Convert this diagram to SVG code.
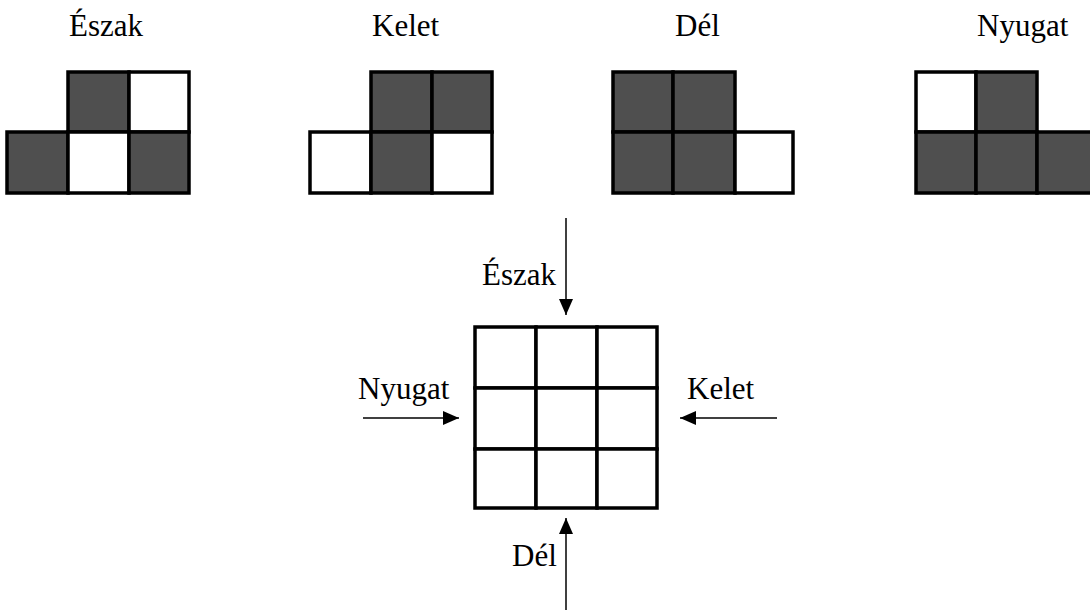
<svg xmlns="http://www.w3.org/2000/svg" width="1090" height="610" viewBox="0 0 1090 610">
<style>
text{font-family:"Liberation Serif","Times New Roman",serif;font-size:31px;fill:#000}
.d{fill:#4f4f4f;stroke:#000;stroke-width:3.5}
.w{fill:#fff;stroke:#000;stroke-width:3.5}
.c{stroke:#000;stroke-width:1.5;fill:none}
</style>
<defs>
<marker id="ah" viewBox="0 0 10 10" refX="10" refY="5" markerWidth="10" markerHeight="10" markerUnits="userSpaceOnUse" orient="auto">
<path d="M0,0 L10,5 L0,10 z" fill="#000"/>
</marker>
<marker id="ah2" viewBox="0 0 16 14" refX="16" refY="7" markerWidth="16" markerHeight="14" markerUnits="userSpaceOnUse" orient="auto">
<path d="M0,0 L16,7 L0,14 z" fill="#000"/>
</marker>
</defs>
<rect width="1090" height="610" fill="#fff"/>
<g id="eszak">
<text x="69" y="36">Észak</text>
<rect class="d" x="68" y="72" width="61" height="60"/>
<rect class="w" x="129" y="72" width="60" height="60"/>
<rect class="d" x="7" y="132" width="61" height="61"/>
<rect class="w" x="68" y="132" width="61" height="61"/>
<rect class="d" x="129" y="132" width="60" height="61"/>
</g>
<g id="kelet">
<text x="372" y="36">Kelet</text>
<rect class="d" x="371" y="72" width="61" height="60"/>
<rect class="d" x="432" y="72" width="60" height="60"/>
<rect class="w" x="310" y="132" width="61" height="61"/>
<rect class="d" x="371" y="132" width="61" height="61"/>
<rect class="w" x="432" y="132" width="60" height="61"/>
</g>
<g id="del">
<text x="675" y="36">Dél</text>
<rect class="d" x="613" y="72" width="60" height="60"/>
<rect class="d" x="673" y="72" width="62" height="60"/>
<rect class="d" x="613" y="132" width="60" height="61"/>
<rect class="d" x="673" y="132" width="62" height="61"/>
<rect class="w" x="735" y="132" width="58" height="61"/>
</g>
<g id="nyugat">
<text x="977" y="36">Nyugat</text>
<rect class="w" x="916" y="72" width="60" height="60"/>
<rect class="d" x="976" y="72" width="61" height="60"/>
<rect class="d" x="916" y="132" width="60" height="61"/>
<rect class="d" x="976" y="132" width="61" height="61"/>
<rect class="d" x="1037" y="132" width="60" height="61"/>
</g>
<g id="grid">
<rect class="w" x="475" y="327" width="61" height="61"/>
<rect class="w" x="536" y="327" width="61" height="61"/>
<rect class="w" x="597" y="327" width="60" height="61"/>
<rect class="w" x="475" y="388" width="61" height="61"/>
<rect class="w" x="536" y="388" width="61" height="61"/>
<rect class="w" x="597" y="388" width="60" height="61"/>
<rect class="w" x="475" y="449" width="61" height="59"/>
<rect class="w" x="536" y="449" width="61" height="59"/>
<rect class="w" x="597" y="449" width="60" height="59"/>
</g>
<g id="labels">
<text x="482" y="285">Észak</text>
<text x="358" y="399">Nyugat</text>
<text x="687" y="399">Kelet</text>
<text x="512" y="566">Dél</text>
</g>
<g id="connectors">
<line class="c" x1="566" y1="218" x2="566" y2="315" marker-end="url(#ah2)"/>
<line class="c" x1="566" y1="610" x2="566" y2="518" marker-end="url(#ah2)"/>
<line class="c" x1="363" y1="418" x2="459" y2="418" marker-end="url(#ah2)"/>
<line class="c" x1="777" y1="418" x2="680" y2="418" marker-end="url(#ah2)"/>
</g>
</svg>
